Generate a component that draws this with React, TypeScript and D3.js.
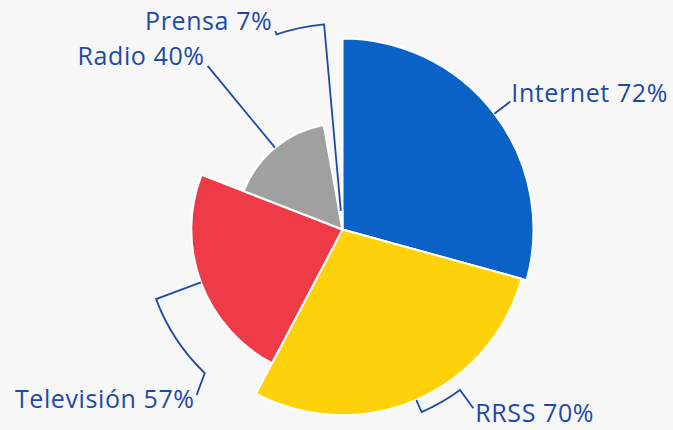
import React, { useRef, useEffect } from "react";
import * as d3 from "d3";

const categories = ["Internet", "RRSS", "Televisión", "Radio", "Prensa"];
const values = [72, 70, 57, 40, 7];
const colors = ["#0a62c6", "#fdd20b", "#ef3b48", "#a0a0a0", "#f7f7f7"];

// leader layout per label: angle to slide along (deg), radii, text offset
const leaders = [
  { to: null, endAt: null, elbowR: 0, endR: 211, anchor: "start", dx: 1, dy: 0 },
  { to: 143.8, endAt: 143.8, elbowR: 199, endR: 221.5, anchor: "start", dx: 2, dy: 14 },
  { to: 223.8, endAt: 221.4, elbowR: 199, endR: 220.6, anchor: "end", dx: -2, dy: 13 },
  { to: null, endAt: null, elbowR: 0, endR: 212, anchor: "end", dx: -3, dy: -1 },
  { to: 341.3, endAt: 341.3, elbowR: 206, endR: 209.5, anchor: "end", dx: -3, dy: -1 },
];

const W = 673;
const H = 430;
const cx = 342.5;
const cy = 229.5;
const textColor = "#1d4aa5";

const App = () => {
  const svgRef = useRef<SVGSVGElement>(null);

  useEffect(() => {
    document.body.style.margin = "0";
    document.body.style.background = "#f7f7f7";
    const svg = d3.select(svgRef.current);
    svg.selectAll("*").remove();

    const data = categories.map((c, i) => ({ name: c, value: values[i], color: colors[i] }));

    // radius grows with the value, angle too
    const r = d3.scaleLinear().domain([0, d3.max(values)]).range([0, 191]);

    const pie = d3.pie<any>().sort(null).value((d) => d.value);
    const arcs = pie(data);

    const arc = d3
      .arc<any>()
      .innerRadius(0)
      .outerRadius((d) => r(d.data.value));

    const g = svg.append("g").attr("transform", `translate(${cx},${cy})`);

    g.selectAll("path.slice")
      .data(arcs)
      .enter()
      .append("path")
      .attr("class", "slice")
      .attr("d", arc)
      .attr("fill", (d) => d.data.color)
      .attr("stroke", "#ffffff")
      .attr("stroke-width", 2)
      .attr("stroke-linejoin", "round");

    const pt = (deg: number, rad: number) => {
      const a = (deg * Math.PI) / 180;
      return [rad * Math.sin(a), -rad * Math.cos(a)];
    };

    arcs.forEach((d, i) => {
      const L = leaders[i];
      const mid = (((d.startAngle + d.endAngle) / 2) * 180) / Math.PI;
      const start = pt(mid, r(d.data.value));
      let path = `M${start[0]},${start[1]}`;
      let end;
      if (L.to === null) {
        end = pt(mid, L.endR);
        path += `L${end[0]},${end[1]}`;
      } else {
        const e1 = pt(mid, L.elbowR);
        const e2 = pt(L.to, L.elbowR);
        end = pt(L.endAt, L.endR);
        const sweep = L.to > mid ? 1 : 0;
        path += `L${e1[0]},${e1[1]}A${L.elbowR},${L.elbowR} 0 0 ${sweep} ${e2[0]},${e2[1]}L${end[0]},${end[1]}`;
      }
      g.append("path")
        .attr("d", path)
        .attr("fill", "none")
        .attr("stroke", textColor)
        .attr("stroke-width", 1.8);

      g.append("text")
        .attr("x", end[0] + L.dx)
        .attr("y", end[1] + L.dy)
        .attr("text-anchor", L.anchor)
        .attr("font-family", "'Open Sans', sans-serif")
        .attr("font-size", 25)
        .attr("letter-spacing", 0.6)
        .attr("fill", textColor)
        .text(`${d.data.name} ${d.data.value}%`);
    });
  }, []);

  return <svg ref={svgRef} width={W} height={H} style={{ display: "block", background: "#f7f7f7" }}></svg>;
};

export default App;
